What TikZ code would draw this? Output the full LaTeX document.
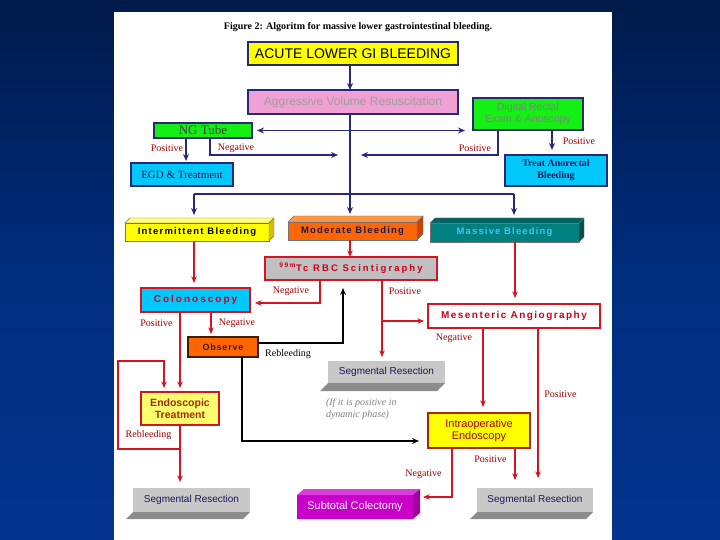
\documentclass[tikz,border=0pt]{standalone}
\usepackage{fontspec}
\setmainfont{Liberation Serif}
\newfontfamily\sfa{Liberation Sans}
\usetikzlibrary{arrows.meta}
\definecolor{cBgT}{RGB}{0,6,22}
\definecolor{cBgM}{RGB}{0,45,125}
\definecolor{cBgB}{RGB}{8,58,158}
\definecolor{cNavy}{RGB}{40,40,120}
\definecolor{cNavyT}{RGB}{25,25,85}
\definecolor{cRed}{RGB}{210,20,35}
\definecolor{cRedT}{RGB}{205,0,30}
\definecolor{cLab}{RGB}{160,0,0}
\definecolor{cYel}{RGB}{255,255,0}
\definecolor{cYelTop}{RGB}{255,255,120}
\definecolor{cYelSide}{RGB}{215,190,0}
\definecolor{cYelL}{RGB}{255,255,110}
\definecolor{cPink}{RGB}{240,160,210}
\definecolor{cGreen}{RGB}{20,240,20}
\definecolor{cCyan}{RGB}{0,200,250}
\definecolor{cOrange}{RGB}{255,102,0}
\definecolor{cOrTop}{RGB}{255,150,70}
\definecolor{cOrSide}{RGB}{200,70,0}
\definecolor{cTeal}{RGB}{0,128,128}
\definecolor{cTealTop}{RGB}{0,100,100}
\definecolor{cTealSide}{RGB}{0,80,80}
\definecolor{cMassT}{RGB}{60,200,235}
\definecolor{cGray}{RGB}{192,192,192}
\definecolor{cSeg}{RGB}{200,200,200}
\definecolor{cSegD}{RGB}{140,140,140}
\definecolor{cMag}{RGB}{200,0,200}
\definecolor{cMagTop}{RGB}{220,60,220}
\definecolor{cMagSide}{RGB}{160,0,160}
\definecolor{cBrown}{RGB}{165,40,10}
\definecolor{cDkRed}{RGB}{160,0,0}
\definecolor{cObsB}{RGB}{60,30,0}
\pgfdeclareverticalshading{bgshade}{100bp}{color(0bp)=(cBgB); color(50bp)=(cBgM); color(100bp)=(cBgT)}
\newcommand\mkdepth[5]{%
  \filldraw[fill=#2,draw=black!55,line width=0.4pt] (#1.north west) -- ++(#4,-#5) -- ([shift={(#4,-#5)}]#1.north east) -- (#1.north east) -- cycle;
  \filldraw[fill=#3,draw=black!55,line width=0.4pt] (#1.north east) -- ++(#4,-#5) -- ([shift={(#4,-#5)}]#1.south east) -- (#1.south east) -- cycle;}
\newcommand\mkshadow[3]{%
  \fill[#2] (#1.south west) -- (#1.south east) -- ++(-#3,#3) -- ([shift={(-#3,#3)}]#1.south west) -- cycle;}
\begin{document}
\begin{tikzpicture}[x=1pt,y=-1pt,
  bx/.style={draw=cNavy,line width=1.4pt,inner sep=0pt,outer sep=0pt,align=center},
  rbx/.style={draw=cRed,line width=1.4pt,inner sep=0pt,outer sep=0pt,align=center},
  flat/.style={inner sep=0pt,outer sep=0pt,align=center},
  nav/.style={draw=cNavy,line width=1.7pt,-{Stealth[length=7pt,width=6pt]}},
  navl/.style={draw=cNavy,line width=1.7pt},
  rarr/.style={draw=cRed,line width=1.5pt,-{Stealth[length=6.5pt,width=5.5pt]}},
  barr/.style={draw=black,line width=1.6pt,-{Stealth[length=7pt,width=6pt]}},
  lab/.style={font=\fontsize{10}{11}\selectfont,text=cLab,inner sep=0pt},
  wide/.style={font=\sfa\bfseries\fontsize{9.5}{10}\selectfont\addfontfeature{LetterSpace=#1}}
]
\useasboundingbox (0,0) rectangle (720,540);
\shade[shading=bgshade] (0,0) rectangle (720,540);
\fill[white] (114,12) rectangle (612,540);

\node[flat,font=\bfseries\fontsize{10}{11}\selectfont] (title) at (358,27) {Figure 2: Algoritm for massive lower gastrointestinal bleeding.};

% top boxes
\node[bx,fill=cYel,minimum width=210,minimum height=23,font=\sfa\fontsize{14}{15}\selectfont] (acute) at (353,53.5) {ACUTE LOWER GI BLEEDING};
\node[bx,fill=cPink,minimum width=210,minimum height=24,font=\sfa\fontsize{12}{13}\selectfont,text=black!38] (aggr) at (353,102) {Aggressive Volume Resuscitation};
\node[bx,fill=cGreen,minimum width=98,minimum height=15,font=\fontsize{13}{13}\selectfont,text=black!75] (ng) at (203,130.5) {NG Tube};
\node[bx,fill=cGreen,minimum width=110,minimum height=32,font=\sfa\fontsize{10.5}{12}\selectfont,text=black!50] (dre) at (528,114) {Digital Rectal\\Exam \& Anoscopy};
\node[bx,fill=cCyan,minimum width=102,minimum height=23,font=\fontsize{11}{12}\selectfont,text=cNavyT] (egd) at (182,174.5) {EGD \& Treatment};
\node[bx,fill=cCyan,minimum width=102,minimum height=31,font=\bfseries\fontsize{10}{12}\selectfont,text=cNavyT] (treat) at (556,170.5) {Treat Anorectal\\Bleeding};

% 3D row
\node[flat,fill=cYel,draw=black!55,line width=0.4pt,minimum width=144,minimum height=18,wide=13] (inter) at (197,232) {Intermittent Bleeding};
\mkdepth{inter}{cYelTop}{cYelSide}{5}{5}
\node[flat,fill=cOrange,draw=black!55,line width=0.4pt,minimum width=129,minimum height=18,wide=12.5,text=cNavyT] (moder) at (352.5,231) {Moderate Bleeding};
\mkdepth{moder}{cOrTop}{cOrSide}{6}{6}
\node[flat,fill=cTeal,draw=black!55,line width=0.4pt,minimum width=149,minimum height=19,wide=12,text=cMassT] (massive) at (504.5,232.5) {Massive Bleeding};
\mkdepth{massive}{cTealTop}{cTealSide}{5}{5}

% second level
\node[rbx,fill=cGray,minimum width=172,minimum height=23,wide=21.5,text=cRedT] (scint) at (351,268.5) {\textsuperscript{99m}Tc RBC Scintigraphy};
\node[rbx,fill=cCyan,minimum width=109,minimum height=24,font=\sfa\bfseries\fontsize{10}{11}\selectfont\addfontfeature{LetterSpace=20},text=cRedT] (colon) at (195.5,300) {Colonoscopy};
\node[rbx,fill=white,minimum width=172,minimum height=24,font=\sfa\bfseries\fontsize{10}{11}\selectfont\addfontfeature{LetterSpace=14.5},text=cRedT] (mesent) at (514,316) {Mesenteric Angiography};
\node[flat,fill=cOrange,draw=cObsB,line width=1.4pt,minimum width=70,minimum height=20,font=\sfa\bfseries\fontsize{9}{10}\selectfont\addfontfeature{LetterSpace=9},text=cObsB] (observe) at (223,347) {Observe};

\node[flat,fill=cSeg,minimum width=117,minimum height=22,font=\sfa\fontsize{10}{11}\selectfont,text=cNavyT] (segmid) at (386.5,372) {Segmental Resection};
\mkshadow{segmid}{cSegD}{8}

\node[rbx,fill=cYelL,minimum width=78,minimum height=33,font=\sfa\bfseries\fontsize{10.5}{12}\selectfont,text=cBrown] (endo) at (180,408.5) {Endoscopic\\Treatment};
\node[flat,fill=cYel,draw=cBrown,line width=1.4pt,minimum width=102,minimum height=35,font=\sfa\fontsize{11}{12}\selectfont,text=cDkRed] (intraop) at (479,430.5) {Intraoperative\\Endoscopy};

\node[flat,font=\itshape\fontsize{10}{12}\selectfont,text=black!50,align=left,anchor=west] (note) at (326,409) {(If it is positive in\\dynamic phase)};

% bottom boxes
\node[flat,fill=cSeg,minimum width=117,minimum height=24,font=\sfa\fontsize{10}{11}\selectfont,text=cNavyT] (segL) at (191.5,500) {Segmental Resection};
\mkshadow{segL}{cSegD}{7}
\node[flat,fill=cSeg,minimum width=116,minimum height=24,font=\sfa\fontsize{10}{11}\selectfont,text=cNavyT] (segR) at (535,500) {Segmental Resection};
\mkshadow{segR}{cSegD}{7}
\node[flat,fill=cMag,minimum width=116,minimum height=24,font=\sfa\fontsize{11}{12}\selectfont,text=white] (subt) at (355,507) {Subtotal Colectomy};
\fill[cMagTop] (subt.north west) -- ++(7,-6) -- ([shift={(7,-6)}]subt.north east) -- (subt.north east) -- cycle;
\fill[cMagSide] (subt.north east) -- ++(7,-6) -- ([shift={(7,-6)}]subt.south east) -- (subt.south east) -- cycle;

% navy connectors
\coordinate (jmid) at (350,194);
\coordinate (jl) at (194,194);
\coordinate (jr) at (514,194);
\draw[nav] (acute.south -| jmid) -- (aggr.north -| jmid);
\draw[navl] (aggr.south -| jmid) -- (jmid);
\draw[navl] (jl) -- (jr);
\draw[nav] (jl) -- ([yshift=8pt]jl |- inter.north);
\draw[nav] (jmid) -- ([yshift=8pt]jmid |- moder.north);
\draw[nav] (jr) -- ([yshift=8pt]jr |- massive.north);
\draw[draw=cNavy,line width=1.7pt,{Stealth[length=7pt,width=6pt]}-{Stealth[length=7pt,width=6pt]}] ([xshift=5pt]ng.east) -- ([xshift=-8pt]dre.west |- ng.east);
\draw[nav] ([xshift=-17pt]ng.south) -- ([xshift=4pt,yshift=2pt]egd.north);
\coordinate (negend) at (338,155);
\coordinate (posend) at (361,155);
\draw[nav] ([xshift=7pt]ng.south) |- (negend);
\draw[nav] ([xshift=-30pt]dre.south) |- (posend);
\draw[nav] ([xshift=24pt]dre.south) -- ([xshift=-4pt,yshift=5pt]treat.north);

% red connectors
\draw[rarr] ([xshift=-3pt]inter.south) -- ([xshift=-1.5pt,yshift=5pt]colon.north);
\draw[rarr] ([xshift=-2.5pt]moder.south) -- ([xshift=-1pt]scint.north);
\draw[rarr] ([xshift=10.5pt]massive.south) -- ([xshift=1pt,yshift=6pt]mesent.north);
\draw[rarr] ([xshift=-31pt]scint.south) |- ([xshift=5pt,yshift=-3pt]colon.east);
\draw[rarr] ([xshift=31pt]scint.south) -- ([xshift=-4.5pt,yshift=4pt]segmid.north);
\coordinate (pbr) at (382,321);
\draw[rarr] (pbr) -- ([xshift=-4pt,yshift=-5pt]mesent.west);
\draw[rarr] ([xshift=-15.5pt]colon.south) -- ([yshift=4pt]endo.north);
\draw[rarr] ([xshift=15.5pt]colon.south) -- ([xshift=-12pt,yshift=3pt]observe.north);
\draw[rarr] (endo.south) -- ([xshift=-11.5pt,yshift=6pt]segL.north);
\coordinate (lp) at (180,449);
\coordinate (lpl) at (118,361);
\draw[rarr] (lp) -| (lpl) -| ([xshift=-16pt,yshift=4pt]endo.north);
\draw[rarr] ([xshift=-31pt]mesent.south) -- ([xshift=4pt,yshift=6pt]intraop.north);
\draw[rarr] ([xshift=24pt]mesent.south) -- ([xshift=3pt,yshift=10pt]segR.north);
\draw[rarr] ([xshift=36pt]intraop.south) -- ([xshift=-20pt,yshift=8pt]segR.north);
\draw[rarr] ([xshift=-27pt]intraop.south) |- ([xshift=10pt,yshift=10pt]subt.east);

% black connectors
\draw[barr] ([yshift=4pt]observe.east) -| ([xshift=-8pt,yshift=-8pt]scint.south);
\draw[barr] ([xshift=19pt]observe.south) |- ([xshift=-9pt,yshift=-10.5pt]intraop.west);

% labels
\node[lab] (lNgPos) at (167,148) {Positive};
\node[lab] (lNgNeg) at (236,148) {Negative};
\node[lab] (lDrePos) at (475,148) {Positive};
\node[lab] (lDrePos2) at (579,141) {Positive};
\node[lab] (lScNeg) at (291,291) {Negative};
\node[lab] (lScPos) at (405,291) {Positive};
\node[lab] (lColPos) at (156.5,323) {Positive};
\node[lab] (lColNeg) at (237,323) {Negative};
\node[lab,text=black] (lReb1) at (288,354) {Rebleeding};
\node[lab] (lMesNeg) at (454,338) {Negative};
\node[lab] (lMesPos) at (560.5,394) {Positive};
\node[lab] (lReb2) at (148.5,435) {Rebleeding};
\node[lab] (lIoPos) at (490.5,459) {Positive};
\node[lab] (lIoNeg) at (423.5,474) {Negative};
\end{tikzpicture}
\end{document}
